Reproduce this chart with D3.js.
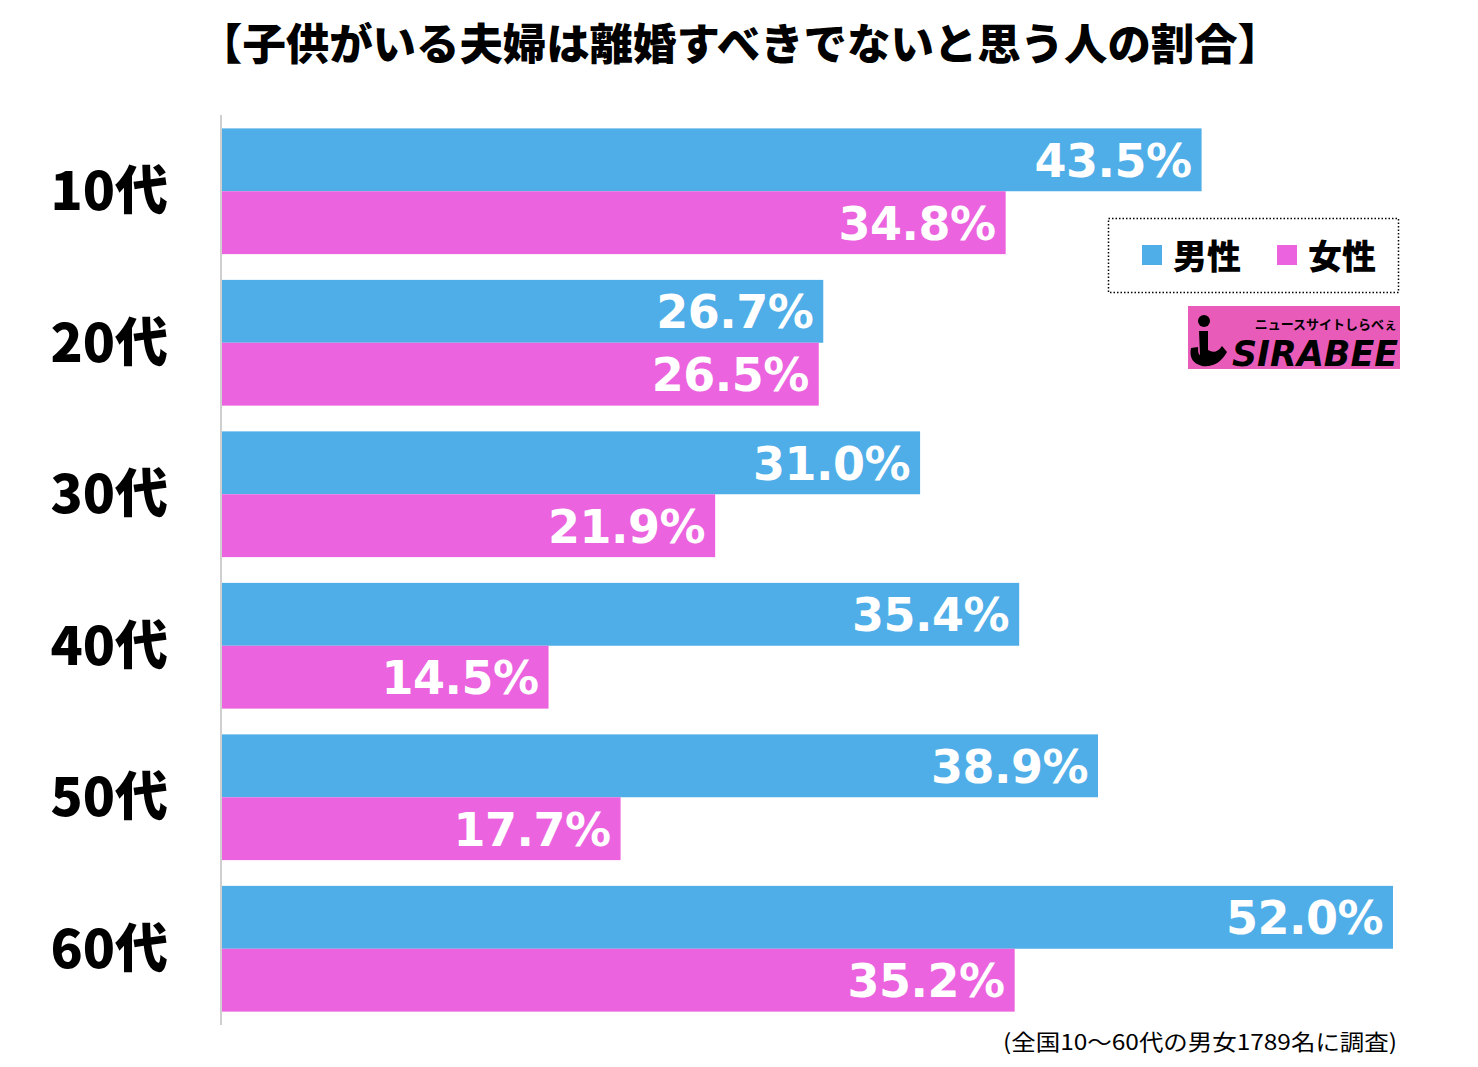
<!DOCTYPE html>
<html><head><meta charset="utf-8">
<script src="https://cdn.jsdelivr.net/npm/d3@7"></script>
<style>body{margin:0;background:#fff}svg{display:block}</style>
</head><body><svg id="c" width="1478" height="1067"></svg>
<script>
const title = "【子供がいる夫婦は離婚すべきでないと思う人の割合】";
const categories = ["10代","20代","30代","40代","50代","60代"];
const seriesNames = ["男性","女性"];
const male = [43.5, 26.7, 31.0, 35.4, 38.9, 52.0];
const female = [34.8, 26.5, 21.9, 14.5, 17.7, 35.2];
const footnote = "(全国10〜60代の男女1789名に調査)";
const colors = ["#4faee8", "#eb63de"];

const svg = d3.select("#c");
const x = d3.scaleLinear().domain([0, 52]).range([222, 1393]);
const y = d3.scaleBand().domain(categories).range([115.5, 1024.5]).paddingInner(0.17).paddingOuter(0.085);
const sub = d3.scaleBand().domain(seriesNames).range([0, y.bandwidth()]);

const cjk = "'Noto Sans CJK JP', sans-serif";

svg.append("text").attr("x", 199).attr("y", 60)
  .style("font-family", cjk).style("font-weight", 900).style("font-size","43px").attr("fill","#000")
  .attr("textLength", 1082).attr("lengthAdjust","spacingAndGlyphs")
  .text(title);

const rows = categories.map((c,i)=>({cat:c, vals:[male[i], female[i]]}));
const g = svg.selectAll("g.row").data(rows).join("g").attr("class","row")
  .attr("transform", d=>`translate(0,${y(d.cat)})`);

g.selectAll("rect").data(d=>d.vals.map((v,j)=>({v, s:seriesNames[j], j}))).join("rect")
  .attr("x", x(0)).attr("y", d=>sub(d.s)).attr("width", d=>x(d.v)-x(0)).attr("height", sub.bandwidth())
  .attr("fill", d=>colors[d.j]);

g.selectAll("text.val").data(d=>d.vals.map((v,j)=>({v, s:seriesNames[j], j}))).join("text")
  .attr("class","val").attr("x", d=>x(d.v)-10).attr("y", d=>sub(d.s)+sub.bandwidth()/2+17)
  .attr("text-anchor","end").attr("fill","#fff")
  .style("font-family","'DejaVu Sans', sans-serif").style("font-weight","bold").style("font-size","46px")
  .style("letter-spacing","-0.5px")
  .text(d=>d.v.toFixed(1)+"%");

g.append("text").attr("x", 168).attr("y", y.bandwidth()/2+19).attr("text-anchor","end")
  .style("font-family", cjk).style("font-weight",900).style("font-size","53px").attr("fill","#000")
  .text(d=>d.cat);

// axis line
svg.append("line").attr("x1",221).attr("x2",221).attr("y1",115).attr("y2",1025)
  .attr("stroke","#cfcfcf").attr("stroke-width",2);

// legend
const lg = svg.append("g");
lg.append("rect").attr("x",1108.5).attr("y",218.5).attr("width",290).attr("height",74)
  .attr("fill","#fff").attr("stroke","#000").attr("stroke-width",1.5).attr("stroke-dasharray","1.5,2");
const legX = [1142, 1277];
seriesNames.forEach((s,j)=>{
  lg.append("rect").attr("x",legX[j]).attr("y",245).attr("width",20).attr("height",20).attr("fill",colors[j]);
  lg.append("text").attr("x",legX[j]+31).attr("y",269).style("font-family",cjk).style("font-weight",900)
    .style("font-size","34px").attr("fill","#000").text(s);
});

// logo
const lo = svg.append("g");
lo.append("rect").attr("x",1188).attr("y",306).attr("width",212).attr("height",63).attr("fill","#e95bb8");
lo.append("text").attr("x",1232).attr("y",366).style("font-family","'DejaVu Sans', sans-serif")
  .style("font-weight","bold").style("font-style","italic").style("font-size","36px").attr("fill","#000")
  .attr("textLength",166).attr("lengthAdjust","spacingAndGlyphs").text("SIRABEE");
lo.append("text").attr("x",1397).attr("y",329).attr("text-anchor","end").style("font-family",cjk)
  .style("font-weight",700).style("font-size","13px").attr("fill","#000").text("ニュースサイトしらべぇ");
lo.append("circle").attr("cx",1204).attr("cy",321).attr("r",6).attr("fill","#000");
lo.append("path").attr("d","M1199,331 L1208,331 L1208,350 Q1216,355 1222,346 L1227,352 Q1218,368 1202,366 Q1188,362 1191,348 L1198,347 Q1198,355 1200,355 Z").attr("fill","#000");

svg.append("text").attr("x",1003).attr("y",1050)
  .style("font-family",cjk).style("font-size","22px").attr("fill","#000")
  .attr("textLength",394).attr("lengthAdjust","spacingAndGlyphs").text(footnote);
</script></body></html>
